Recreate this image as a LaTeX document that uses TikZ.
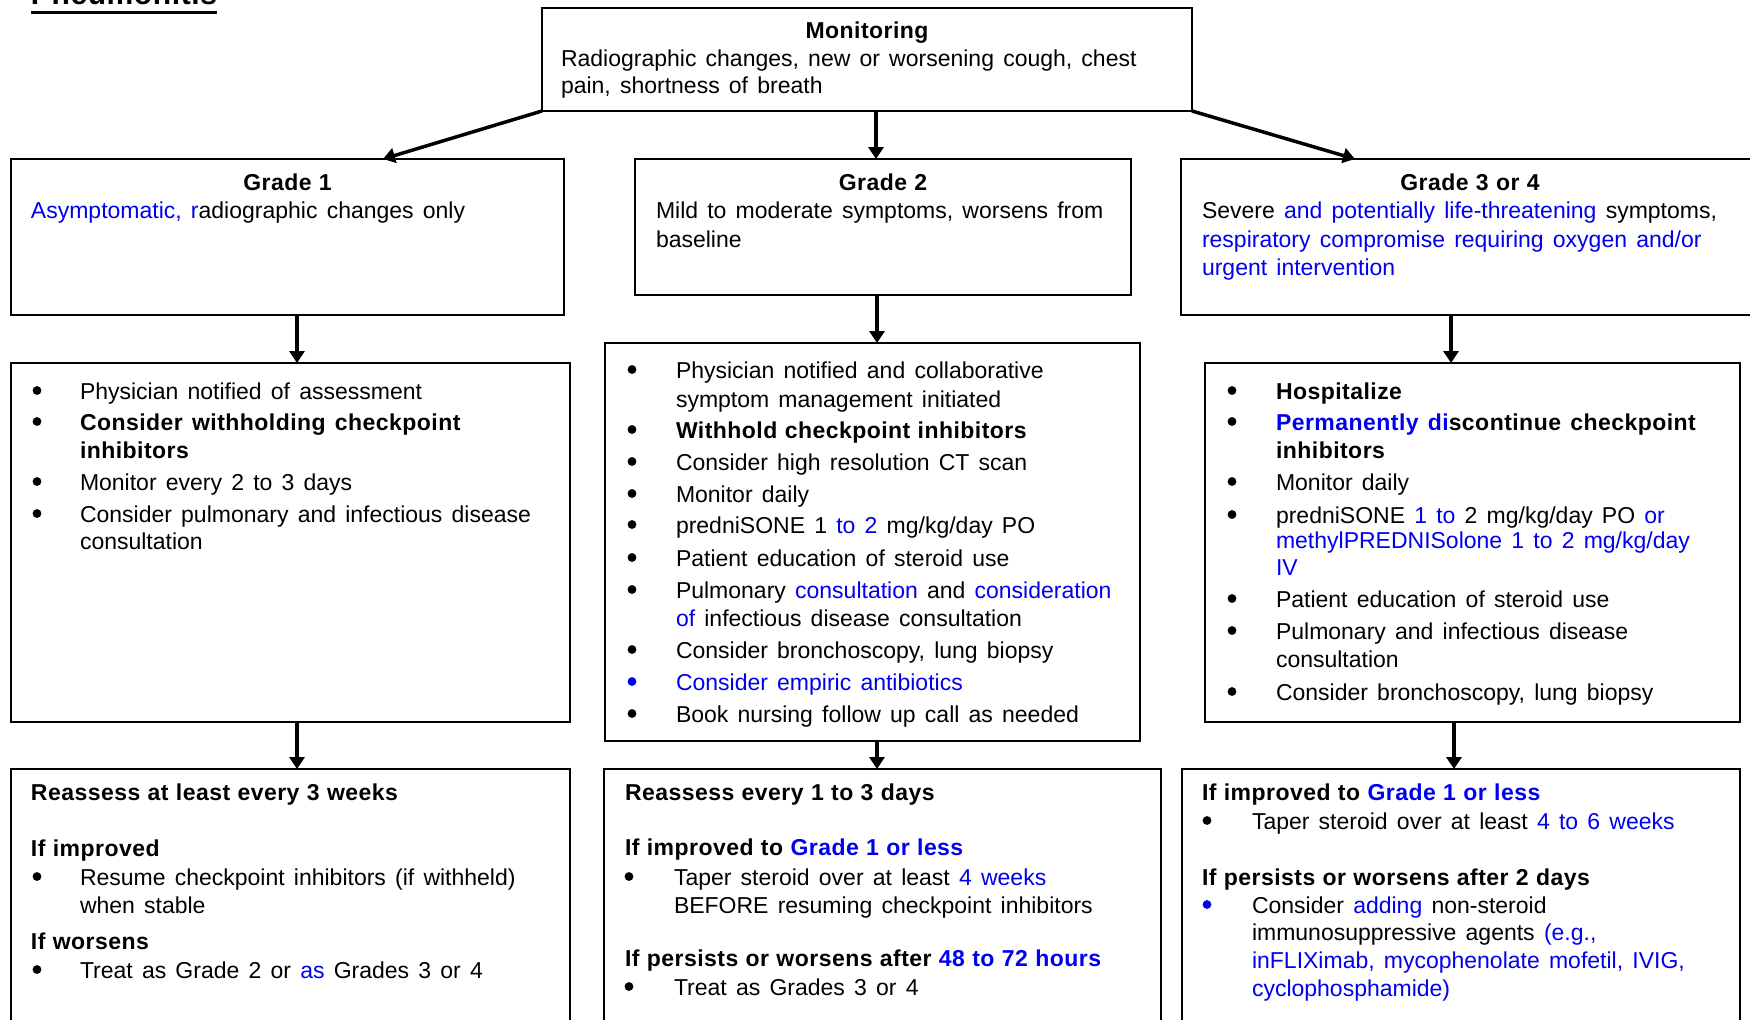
\documentclass[tikz,border=0pt]{standalone}
\usepackage{fontspec}
\setmainfont{Liberation Sans}[BoldFeatures={LetterSpace=2.0}]
\usetikzlibrary{arrows.meta}
\definecolor{linkblue}{RGB}{0,0,238}
\newcommand\blu[1]{\textcolor{linkblue}{#1}}
\newcommand\mainfnt{\fontsize{11.5}{14}\selectfont\spaceskip=0.4em\relax}
\newcommand\bld{\bfseries\spaceskip=0.32em\relax}
\newcounter{ln}
% one line of text, left aligned on its baseline
\newcommand\lineat[3]{\stepcounter{ln}\node[txt] (ln\arabic{ln}) at (#1,#2) {#3};}
% centred bold heading
\newcommand\headat[3]{\stepcounter{ln}\node[txt,anchor=base] (hd\arabic{ln}) at (#1,#2) {\bld #3};}
% bullet at x=#2, text at x=#3, baseline y=#4
\newcommand\itemat[5][black]{\stepcounter{ln}%
  \node[dot,fill=#1] (bu\arabic{ln}) at (#2,#4-8.5) {};%
  \node[txt] (it\arabic{ln}) at (#3,#4) {#5};}
\begin{document}
\begin{tikzpicture}[x=0.5pt,y=-0.5pt,
  txt/.style={anchor=base west,inner sep=0pt,outer sep=0pt,font=\mainfnt},
  dot/.style={circle,draw=none,inner sep=0pt,outer sep=0pt,minimum size=4.4pt},
  box/.style={draw=black,line width=1pt,rectangle,inner sep=0pt,outer sep=0pt,anchor=north west},
  arr/.style={line width=1.75pt,-{Triangle[length=6pt,width=7.5pt]}}]
\useasboundingbox (0,0) rectangle (1750,1019);
\clip (0,0) rectangle (1750,1019);

% title
\node[txt,font=\fontsize{15}{18}\selectfont\bfseries] (title) at (31,4) {Pneumonitis};
\draw[line width=1.5pt] ([yshift=-4pt]title.base west) -- ([yshift=-4pt]title.base east);

% boxes
\node[box,minimum width=325pt,minimum height=51.5pt] (mon) at (542,8) {};
\node[box,minimum width=276.5pt,minimum height=78pt] (g1) at (11,159) {};
\node[box,minimum width=248pt,minimum height=68pt] (g2) at (635,159) {};
\node[box,minimum width=294.5pt,minimum height=78pt] (g3) at (1181,159) {};
\node[box,minimum width=279.5pt,minimum height=179.5pt] (a1) at (11,363) {};
\node[box,minimum width=267.5pt,minimum height=199pt] (a2) at (605,343) {};
\node[box,minimum width=267.5pt,minimum height=179.5pt] (a3) at (1205,363) {};
\node[box,minimum width=279.5pt,minimum height=135.5pt] (r1) at (11,769) {};
\node[box,minimum width=278.5pt,minimum height=135.5pt] (r2) at (604,769) {};
\node[box,minimum width=279pt,minimum height=135.5pt] (r3) at (1182,769) {};

% arrow columns
\coordinate (cm) at (876,0);
\coordinate (c1) at (297,0);
\coordinate (c2) at (877,0);
\coordinate (c3) at (1451,0);
\coordinate (c3b) at (1454,0);

% connectors
\draw[arr] (mon.south west) -- ([xshift=47.75pt]g1.north);
\draw[arr] (mon.south -| cm) -- (g2.north -| cm);
\draw[arr] (mon.south east) -- ([xshift=-60.25pt]g3.north);
\draw[arr] (g1.south -| c1) -- (a1.north -| c1);
\draw[arr] (g2.south -| c2) -- (a2.north -| c2);
\draw[arr] (g3.south -| c3) -- (a3.north -| c3);
\draw[arr] (a1.south -| c1) -- (r1.north -| c1);
\draw[arr] (a2.south -| c2) -- (r2.north -| c2);
\draw[arr] (a3.south -| c3b) -- (r3.north -| c3b);

% monitoring
\headat{867}{38}{Monitoring}
\lineat{561}{66}{Radiographic changes, new or worsening cough, chest}
\lineat{561}{93}{pain, shortness of breath}

% grade boxes
\headat{287.5}{190}{Grade 1}
\lineat{31}{218}{\blu{Asymptomatic, r}adiographic changes only}

\headat{883}{190}{Grade 2}
\lineat{656}{218}{Mild to moderate symptoms, worsens from}
\lineat{656}{247}{baseline}

\headat{1470}{190}{Grade 3 or 4}
\lineat{1202}{218}{Severe \blu{and potentially life-threatening} symptoms,}
\lineat{1202}{247}{\blu{respiratory compromise requiring oxygen and/or}}
\lineat{1202}{275}{\blu{urgent intervention}}

% grade 1 actions
\itemat{37}{80}{399}{Physician notified of assessment}
\itemat{37}{80}{430}{\bfseries Consider withholding checkpoint}
\lineat{80}{458}{\bfseries inhibitors}
\itemat{37}{80}{490}{Monitor every 2 to 3 days}
\itemat{37}{80}{522}{Consider pulmonary and infectious disease}
\lineat{80}{549}{consultation}

% grade 2 actions
\itemat{632}{676}{378}{Physician notified and collaborative}
\lineat{676}{407}{symptom management initiated}
\itemat{632}{676}{438}{\bld Withhold checkpoint inhibitors}
\itemat{632}{676}{470}{Consider high resolution CT scan}
\itemat{632}{676}{502}{Monitor daily}
\itemat{632}{676}{533}{predniSONE 1 \blu{to 2} mg/kg/day PO}
\itemat{632}{676}{566}{Patient education of steroid use}
\itemat{632}{676}{598}{Pulmonary \blu{consultation} and \blu{consideration}}
\lineat{676}{626}{\blu{of} infectious disease consultation}
\itemat{632}{676}{658}{Consider bronchoscopy, lung biopsy}
\itemat[linkblue]{632}{676}{690}{\blu{Consider empiric antibiotics}}
\itemat{632}{676}{722}{Book nursing follow up call as needed}

% grade 3 or 4 actions
\itemat{1232}{1276}{399}{\bld Hospitalize}
\itemat{1232}{1276}{430}{\bfseries \blu{Permanently di}scontinue checkpoint}
\lineat{1276}{458}{\bld inhibitors}
\itemat{1232}{1276}{490}{Monitor daily}
\itemat{1232}{1276}{523}{predniSONE \blu{1 to} 2 mg/kg/day PO \blu{or}}
\lineat{1276}{548}{\blu{methylPREDNISolone 1 to 2 mg/kg/day}}
\lineat{1276}{575}{\blu{IV}}
\itemat{1232}{1276}{607}{Patient education of steroid use}
\itemat{1232}{1276}{639}{Pulmonary and infectious disease}
\lineat{1276}{667}{consultation}
\itemat{1232}{1276}{700}{Consider bronchoscopy, lung biopsy}

% grade 1 follow-up
\lineat{31}{800}{\bld Reassess at least every 3 weeks}
\lineat{31}{856}{\bld If improved}
\itemat{37}{80}{885}{Resume checkpoint inhibitors (if withheld)}
\lineat{80}{913}{when stable}
\lineat{31}{949}{\bld If worsens}
\itemat{37}{80}{978}{Treat as Grade 2 or \blu{as} Grades 3 or 4}

% grade 2 follow-up
\lineat{625}{800}{\bld Reassess every 1 to 3 days}
\lineat{625}{855}{\bld If improved to \blu{Grade 1 or less}}
\itemat{629}{674}{885}{Taper steroid over at least \blu{4 weeks}}
\lineat{674}{913}{BEFORE resuming checkpoint inhibitors}
\lineat{625}{966}{\bld If persists or worsens after \blu{48 to 72 hours}}
\itemat{629}{674}{995}{Treat as Grades 3 or 4}

% grade 3 or 4 follow-up
\lineat{1202}{800}{\bld If improved to \blu{Grade 1 or less}}
\itemat{1207}{1252}{829}{Taper steroid over at least \blu{4 to 6 weeks}}
\lineat{1202}{885}{\bld If persists or worsens after 2 days}
\itemat[linkblue]{1207}{1252}{913}{Consider \blu{adding} non-steroid}
\lineat{1252}{940}{immunosuppressive agents \blu{(e.g.,}}
\lineat{1252}{968}{\blu{inFLIXimab, mycophenolate mofetil, IVIG,}}
\lineat{1252}{996}{\blu{cyclophosphamide)}}
\end{tikzpicture}
\end{document}
